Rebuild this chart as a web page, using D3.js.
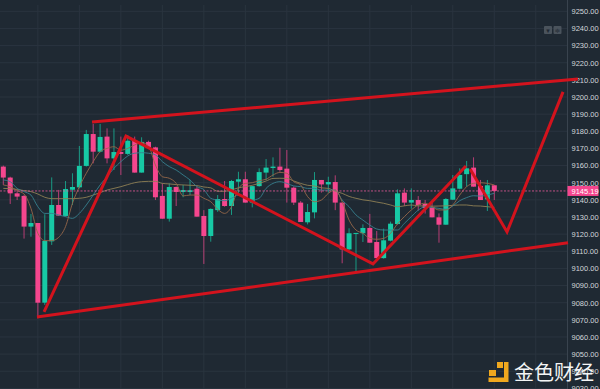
<!DOCTYPE html>
<html>
<head>
<meta charset="utf-8">
<script src="https://cdn.jsdelivr.net/npm/d3@7"></script>
<style>
  html, body { margin: 0; padding: 0; background: #1f2933; overflow: hidden; }
  svg { display: block; }
  .tick text { font-family: "Liberation Sans", Arial, sans-serif; }
</style>
</head>
<body>
<div id="chart"></div>
<script>
// candle values
const opens = [9159.4,9153,9143.8,9142.3,9124.4,9126.5,9080,9115.8,9137,9130.6,9145.9,9147.3,9159.8,9178.4,9168.1,9176.9,9164.2,9167.9,9166.8,9174.5,9155.9,9173.8,9170.6,9142.3,9129,9147.5,9144.6,9144.6,9146.5,
  9130.6,9118.9,9134,9140.5,9136.4,9150.6,9152,9138.4,9148,9155.9,9158.6,9159.4,9158.2,9147.1,9138.4,9126.9,9132.7,9151.6,9149,9150.4,9138.4,9111.1,9120.4,9120.5,9123.6,9115.4,9106,9116.2,9125.9,
  9144.2,9138.4,9139.9,9137.6,9135.6,9129.8,9125.5,9140.1,9146.5,9155,9158.8,9148.1,9140.3,9148.5];
const closes = [9153,9143.8,9141.9,9124.4,9126.5,9080,9116,9137,9130.8,9146.3,9147.5,9159.8,9178.4,9168.1,9176.7,9164.2,9167.9,9166.8,9174.5,9155.9,9173.8,9170.6,9141.5,9129,9147.5,9144.6,9145.7,9145.6,9130.2,
  9118.9,9134.7,9140.5,9136.4,9151,9152,9138.4,9148,9156.2,9158.8,9159.4,9157.4,9147.1,9138.4,9127.1,9132.9,9151.6,9149,9150.4,9138.4,9111.1,9120.5,9120.7,9123.6,9115,9106,9116.4,9126.1,9143.8,
  9138.4,9139.9,9137,9135.2,9129.8,9125.5,9140.5,9146.7,9154.5,9158.4,9147.7,9139.9,9148.5,9145.2];
const highs = [9160,9153.5,9145.4,9142.8,9131.8,9126.5,9131.6,9153.1,9145.8,9151,9155.5,9171.4,9180.8,9184.3,9184.3,9181.7,9181.7,9176.9,9177.8,9176.9,9176.5,9174.5,9171,9149.6,9149.6,9147.8,9148.7,9151.6,9147.8,
  9134,9135,9142.8,9151,9151.6,9156.4,9156.4,9148.1,9158.4,9163.8,9164.8,9170.4,9169.1,9147.8,9139.3,9137.6,9156.2,9151.6,9153.5,9154.3,9138.4,9123.4,9120.7,9125.7,9131.8,9121.8,9123.2,9127.3,9146.1,
  9146.7,9146.7,9142.2,9139.9,9139,9132.1,9141,9154.5,9158.4,9162.7,9164.8,9151.6,9151.6,9148.7];
const lows = [9148.7,9137.6,9139.9,9117.4,9118.5,9070.9,9078.7,9113.7,9130.8,9130.2,9137,9146.7,9159.4,9161.3,9167.7,9161.3,9157.4,9154.5,9166.2,9155.9,9155.9,9170,9139.9,9129,9127.3,9136.4,9141.5,9142.8,9130.2,
  9102.6,9115.6,9133,9136,9131.2,9143.8,9138.4,9135.6,9147.7,9151.6,9153.5,9156.4,9138.4,9137,9127.1,9125.7,9129.2,9144.2,9144.2,9134,9103,9110.7,9098,9115.4,9115,9106,9105.7,9115.8,9125.5,
  9136.4,9134.8,9133.7,9132,9129.8,9115,9125.5,9139.9,9146.1,9147.7,9147.7,9139.9,9133.5,9139.9];

// moving averages, one value per candle
const maFast = [9148.7,9147.7,9145.4,9143.4,9135,9120.5,9116.2,9116.2,9118.1,9124.4,9138,9147.7,9155.5,9162.3,9168.1,9170,9171,9169,9170,9172,9173.4,9171.4,9160.3,9153.5,9152.6,9149.6,9142.3,9142.8,9142.8,
  9140.9,9138.9,9134.5,9132.1,9136,9146.7,9149.6,9150,9151.2,9152,9154.5,9156,9155.5,9150.6,9148.7,9141.9,9138.9,9139.9,9143.8,9145.7,9138.9,9128.2,9122.4,9120.5,9117.5,9117,9117.5,9120.5,9126,
  9130.2,9134.1,9137,9138,9136,9134.1,9134.1,9137,9142.8,9147.7,9149.6,9150,9149.6,9148.7];
const maMid = [9151.6,9150.6,9146.7,9144.8,9142.8,9136,9132.1,9132.1,9131.2,9130.2,9129.2,9132.1,9137,9142.8,9148.7,9153.5,9158.4,9162.3,9165.6,9167.2,9167.5,9167.2,9166.2,9162.3,9159.4,9157.4,9154.5,9151.6,9147.7,
  9146,9140.9,9139.9,9139.5,9140.9,9142.8,9141.9,9139.9,9140.9,9146.7,9149.6,9150.6,9149.6,9148.1,9147.7,9146.7,9146.7,9145.7,9145.7,9145.7,9139.9,9136,9131.2,9128.2,9125.3,9123,9122.4,9122.4,9122.4,
  9126.3,9130.2,9134,9136,9135.6,9135,9134.5,9136.4,9139.5,9141.3,9142.4,9142.2,9142.8,9143.8];
const maSlow = [9146.7,9146.5,9146.1,9145.4,9144.8,9143.4,9141.5,9140.7,9140.7,9140.7,9140.7,9140.9,9141.5,9142.8,9144.2,9145.7,9146.7,9147.7,9148.9,9150,9150.6,9150.8,9150.8,9149.6,9149.3,9148.9,9148.7,9148.5,9148.3,
  9147.5,9147,9145,9145,9145.8,9147,9147.7,9148.5,9149.6,9151,9152.5,9152.6,9152.5,9151,9149.6,9148.5,9148.1,9147,9146.7,9145,9143.8,9142,9140.9,9140,9139.5,9138.7,9138,9137,9136,
  9136.5,9137,9136.5,9136.4,9136.3,9136.4,9136.5,9136.8,9137,9137,9136.5,9136.4,9136,9135.6];

// hand drawn annotations as [candle index, price]
const channelTop = [[12.83,9185.4],[83.1,9210.5]];
const channelBottom = [[4.87,9071.6],[81.66,9115]];
const zigzag = [[5.89,9074.6],[17.74,9177.2],[53.46,9102.6],[66.9,9159.8]];
const forecast = [[67.5,9158],[72.84,9121.3],[80.94,9203]];

const priceTicks = d3.range(9030, 9251, 10);
const gridIndexes = d3.range(5, 78, 6);
const lastPrice = 9145.19;

const width = 600;
const height = 389;
const upColor = '#17c9a5';
const downColor = '#f5468e';
const red = '#d3131d';

const x = d3.scaleLinear().domain([0, 81.6]).range([3.3, 567.6]);
const y = d3.scaleLinear().domain([9250, 9030]).range([11.3, 388.4]);

const svg = d3.select('#chart').append('svg')
  .attr('width', width)
  .attr('height', height)
  .attr('viewBox', `0 0 ${width} ${height}`);

svg.append('rect').attr('width', width).attr('height', height).attr('fill', '#1f2933');

// grid
svg.append('g').selectAll('line').data(priceTicks).join('line')
  .attr('x1', 0).attr('x2', 567.5)
  .attr('y1', (d) => y(d)).attr('y2', (d) => y(d))
  .attr('stroke', '#2a343f');
svg.append('g').selectAll('line').data(gridIndexes).join('line')
  .attr('x1', (d) => x(d)).attr('x2', (d) => x(d))
  .attr('y1', 5).attr('y2', height)
  .attr('stroke', '#2a343f');

// price axis
const axis = d3.axisRight(y).tickValues(priceTicks).tickSize(0).tickPadding(4)
  .tickFormat((d) => d.toFixed(2));
const axisG = svg.append('g').attr('transform', 'translate(567.5,0)').call(axis);
axisG.select('.domain').attr('stroke', '#39434e').attr('d', `M0,0V${height}`);
axisG.selectAll('text').attr('fill', '#d2d6da').attr('font-size', 7.5);

// candles
const candles = opens.map((o, i) => ({ i, o, c: closes[i], h: highs[i], l: lows[i] }));
const color = (d) => (d.c >= d.o ? upColor : downColor);
const bodies = svg.append('g');
bodies.selectAll('line').data(candles).join('line')
  .attr('x1', (d) => x(d.i)).attr('x2', (d) => x(d.i))
  .attr('y1', (d) => y(d.h)).attr('y2', (d) => y(d.l))
  .attr('stroke', color)
  .attr('stroke-opacity', 0.7);
bodies.selectAll('rect').data(candles).join('rect')
  .attr('x', (d) => x(d.i) - 2.5)
  .attr('width', 5)
  .attr('y', (d) => y(Math.max(d.o, d.c)))
  .attr('height', (d) => Math.max(1, Math.abs(y(d.o) - y(d.c))))
  .attr('fill', color);

// moving averages
const maLine = d3.line().x((d, i) => x(i)).y((d) => y(d)).curve(d3.curveMonotoneX);
[[maSlow, '#8f8055'], [maMid, '#37808f'], [maFast, '#96684a']].forEach(([values, stroke]) => {
  svg.append('path')
    .attr('d', maLine(values))
    .attr('fill', 'none')
    .attr('stroke', stroke)
    .attr('stroke-width', 0.9);
});

// last price line and label
svg.append('line')
  .attr('x1', 0).attr('x2', 567.5)
  .attr('y1', y(lastPrice)).attr('y2', y(lastPrice))
  .attr('stroke', '#e85a9a')
  .attr('stroke-width', 0.8)
  .attr('stroke-dasharray', '2,1.5');
svg.append('rect')
  .attr('x', 567.5).attr('y', y(lastPrice) - 5)
  .attr('width', 31).attr('height', 10)
  .attr('fill', downColor);
svg.append('text')
  .attr('x', 571.5).attr('y', y(lastPrice) + 2.7)
  .attr('fill', '#fff')
  .attr('font-family', '"Liberation Sans", Arial, sans-serif')
  .attr('font-size', 7.5)
  .text(lastPrice.toFixed(2));

// red annotations
const path = d3.line().x((d) => x(d[0])).y((d) => y(d[1]));
[channelTop, channelBottom, zigzag, forecast].forEach((pts) => {
  svg.append('path')
    .attr('d', path(pts))
    .attr('fill', 'none')
    .attr('stroke', red)
    .attr('stroke-width', 3)
    .attr('stroke-linejoin', 'miter');
});

// little scale buttons
[[544, '▾'], [553.5, '≑']].forEach(([bx, label]) => {
  svg.append('rect')
    .attr('x', bx).attr('y', 26).attr('width', 8).attr('height', 8).attr('rx', 1)
    .attr('fill', '#4a535c');
  svg.append('text')
    .attr('x', bx + 4).attr('y', 32.5)
    .attr('text-anchor', 'middle')
    .attr('font-size', 7)
    .attr('font-family', '"DejaVu Sans", sans-serif')
    .attr('fill', '#1f2933')
    .text(label);
});

// watermark
const logo = svg.append('g').attr('fill', '#f0a81e');
logo.append('rect').attr('x', 497).attr('y', 362).attr('width', 6).attr('height', 6);
logo.append('rect').attr('x', 489).attr('y', 370).attr('width', 7).attr('height', 6);
logo.append('path').attr('d', 'M504,362h4.5v20h-20v-4.5h15.5z');
svg.append('text')
  .attr('x', 514).attr('y', 380)
  .attr('fill', '#f4f5f5')
  .attr('font-family', '"Noto Sans CJK SC", sans-serif')
  .attr('font-size', 20)
  .text('金色财经');
</script>
</body>
</html>
